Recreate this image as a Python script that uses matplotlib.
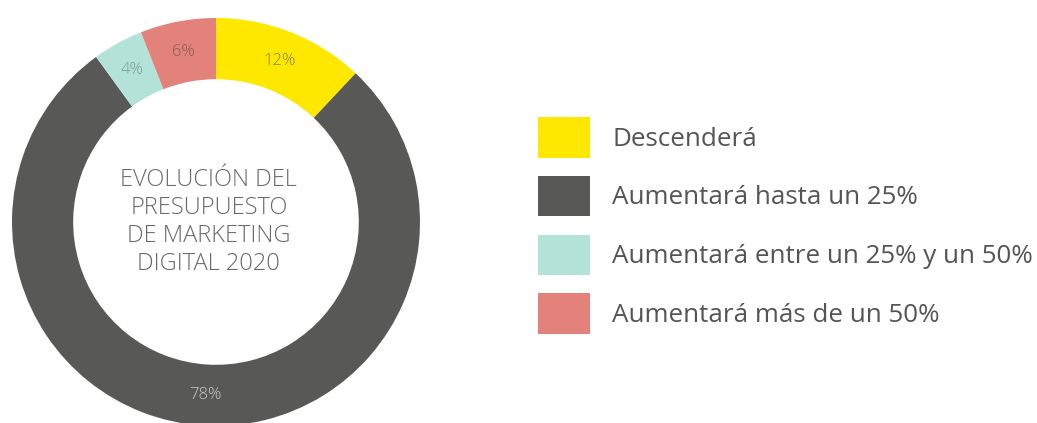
import matplotlib.pyplot as plt

categories = ["Descenderá", "Aumentará hasta un 25%",
              "Aumentará entre un 25% y un 50%", "Aumentará más de un 50%"]
values = [12, 78, 4, 6]
colors = ["#FFE800", "#585856", "#B3E3D8", "#E2827A"]
label_colors = ["#8a8040", "#c8c8c8", "#7a9a94", "#8a5a56"]
center_title = "EVOLUCIÓN DEL\nPRESUPUESTO\nDE MARKETING\nDIGITAL 2020"

plt.rcParams['font.family'] = ['Open Sans', 'DejaVu Sans']

W, H = 1037, 423
fig = plt.figure(figsize=(W / 100, H / 100), dpi=100)

# donut: centre (216, 222) px from top, outer radius 204 px
cx, cy, r = 216, 222, 204
ax = fig.add_axes([(cx - r) / W, (H - cy - r) / H, 2 * r / W, 2 * r / H])
wedges, texts = ax.pie(values, colors=colors, startangle=90, counterclock=False,
                       radius=1, wedgeprops=dict(width=0.30, linewidth=0),
                       labels=[f"{v}%" for v in values], labeldistance=0.85)
for t, c in zip(texts, label_colors):
    t.set_color(c)
    t.set_fontsize(12)
    t.set_fontweight("light")
    t.set_ha("center")
    t.set_va("center")
ax.set_xlim(-1, 1)
ax.set_ylim(-1, 1)
ax.set_aspect("equal")
ax.axis("off")

ax.text(-0.035, 0.0, center_title, ha="center", va="center", fontsize=17,
        color="#6a6a6a", fontweight="light", linespacing=1.22)

leg = fig.legend(wedges, categories, loc="upper left",
                 bbox_to_anchor=(538 / W, 1 - 117 / H), frameon=False,
                 fontsize=18.7, borderpad=0, borderaxespad=0,
                 handlelength=2.0, handleheight=2.03, handletextpad=0.86,
                 labelspacing=0.7, labelcolor="#555555")

fig.savefig("out.png", dpi=100)
